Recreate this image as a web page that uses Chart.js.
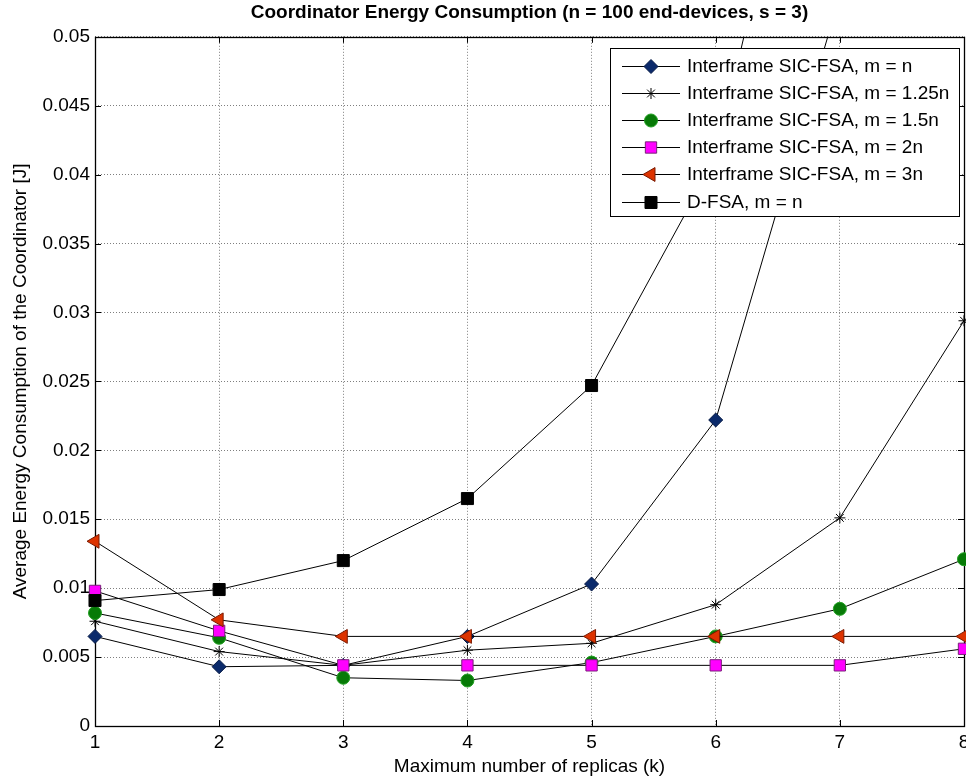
<!DOCTYPE html>
<html>
<head>
<meta charset="utf-8">
<script src="https://cdn.jsdelivr.net/npm/chart.js@4.4.1/dist/chart.umd.min.js"></script>
<style>
  body { margin: 0; background: #fff; overflow: hidden; }
</style>
</head>
<body>
<canvas id="chart-energy" width="966" height="778"></canvas>
<script>
// x categories: maximum number of replicas k
var replicas = ['1', '2', '3', '4', '5', '6', '7', '8'];
var yTicks = [0, 0.005, 0.01, 0.015, 0.02, 0.025, 0.03, 0.035, 0.04, 0.045, 0.05];

// average energy per coordinator [J]
var sicM1   = [0.0065, 0.0043, 0.0044, 0.0065, 0.0103, 0.0222, 0.0530, 0.1200];
var sicM125 = [0.0076, 0.0054, 0.0044, 0.0055, 0.0060, 0.0088, 0.0151, 0.0294];
var sicM15  = [0.0082, 0.0064, 0.0035, 0.0033, 0.0046, 0.0065, 0.0085, 0.0121];
var sicM2   = [0.0098, 0.0069, 0.0044, 0.0044, 0.0044, 0.0044, 0.0044, 0.0056];
var sicM3   = [0.0134, 0.0077, 0.0065, 0.0065, 0.0065, 0.0065, 0.0065, 0.0065];
var dfsa    = [0.0091, 0.0099, 0.0120, 0.0165, 0.0247, 0.0412, 0.0800, 0.1500];

var seriesNames = [
    'Interframe SIC-FSA, m = n',
    'Interframe SIC-FSA, m = 1.25n',
    'Interframe SIC-FSA, m = 1.5n',
    'Interframe SIC-FSA, m = 2n',
    'Interframe SIC-FSA, m = 3n',
    'D-FSA, m = n'
];

var FONT = '"Liberation Sans", Arial, Helvetica, sans-serif';
Chart.defaults.font.family = FONT;
Chart.defaults.color = '#000';

function series(i, values, style) {
    return {
        label: seriesNames[i],
        data: values,
        order: 10 - i,            // later series drawn on top, like matlab
        borderColor: '#000',
        borderWidth: 1,
        tension: 0,
        fill: false,
        pointStyle: style.shape,
        pointRotation: style.rotation || 0,
        pointRadius: style.radius,
        pointBackgroundColor: style.fill,
        pointBorderColor: style.edge,
        pointBorderWidth: 1
    };
}

var datasets = [
    series(0, sicM1,   { shape: 'rectRot', radius: 7, fill: '#0B2A6B', edge: '#061A45' }),
    series(1, sicM125, { shape: 'star', radius: 5.5, fill: '#000', edge: '#000' }),
    series(2, sicM15,  { shape: 'circle', radius: 6.5, fill: '#077A07', edge: '#22A022' }),
    series(3, sicM2,   { shape: 'rect', radius: 8, fill: '#FF00FF', edge: '#7A1F7A' }),
    series(4, sicM3,   { shape: 'triangle', rotation: -90, radius: 8, fill: '#DD3300', edge: '#7A1A00' }),
    series(5, dfsa,    { shape: 'rect', radius: 8.5, fill: '#000', edge: '#000' })
];

// matlab style box with inward ticks
var axesBox = {
    id: 'axesBox',
    beforeDatasetsDraw: function (chart) {
        var ctx = chart.ctx, a = chart.chartArea;
        var xs = chart.scales.x, ys = chart.scales.y;
        ctx.save();
        ctx.strokeStyle = '#000';
        ctx.lineWidth = 1;
        ctx.beginPath();
        xs.ticks.forEach(function (t, i) {
            var px = Math.round(xs.getPixelForTick(i)) + 0.5;
            ctx.moveTo(px, a.bottom); ctx.lineTo(px, a.bottom - 6);
            ctx.moveTo(px, a.top); ctx.lineTo(px, a.top + 6);
        });
        ys.ticks.forEach(function (t) {
            var py = Math.round(ys.getPixelForValue(t.value)) + 0.5;
            ctx.moveTo(a.left, py); ctx.lineTo(a.left + 6, py);
            ctx.moveTo(a.right, py); ctx.lineTo(a.right - 6, py);
        });
        ctx.stroke();
        ctx.lineWidth = 1.3;
        ctx.strokeRect(Math.round(a.left) + 0.5, Math.round(a.top) + 0.5,
            Math.round(a.right - a.left), Math.round(a.bottom - a.top));
        ctx.restore();
    }
};

// boxed legend in the upper right corner, line + marker samples
var boxLegend = {
    id: 'boxLegend',
    afterDatasetsDraw: function (chart) {
        var ctx = chart.ctx;
        var left = 610, top = 48, right = 959, bottom = 216;
        var rowY = 65.5, rowStep = 27.2;
        ctx.save();
        ctx.fillStyle = '#fff';
        ctx.fillRect(left, top, right - left, bottom - top);
        ctx.strokeStyle = '#000';
        ctx.lineWidth = 1;
        ctx.strokeRect(left + 0.5, top + 0.5, right - left, bottom - top);
        chart.data.datasets.forEach(function (ds, i) {
            var y = Math.round(rowY + i * rowStep) + 0.5;
            ctx.strokeStyle = '#000';
            ctx.lineWidth = 1;
            ctx.beginPath();
            ctx.moveTo(622, y); ctx.lineTo(680, y);
            ctx.stroke();
            ctx.fillStyle = ds.pointBackgroundColor;
            ctx.strokeStyle = ds.pointBorderColor;
            ctx.lineWidth = ds.pointBorderWidth;
            Chart.helpers.drawPoint(ctx, {
                pointStyle: ds.pointStyle,
                rotation: ds.pointRotation,
                radius: ds.pointRadius,
                borderWidth: ds.pointBorderWidth
            }, 651, y);
            ctx.fillStyle = '#000';
            ctx.font = '19px ' + FONT;
            ctx.textBaseline = 'middle';
            ctx.textAlign = 'left';
            ctx.fillText(ds.label, 687, y);
        });
        ctx.restore();
    }
};

var ctx = document.getElementById('chart-energy').getContext('2d');
var energyChart = new Chart(ctx, {
    type: 'line',
    data: { labels: replicas, datasets: datasets },
    plugins: [axesBox, boxLegend],
    options: {
        responsive: false,
        maintainAspectRatio: false,
        animation: false,
        layout: { autoPadding: false, padding: { left: 0, right: 2, top: 0, bottom: 0 } },
        plugins: {
            legend: { display: false },
            tooltip: { enabled: false },
            title: {
                display: true,
                fullSize: false,
                text: 'Coordinator Energy Consumption (n = 100 end-devices, s = 3)',
                color: '#000',
                font: { size: 19, weight: 'bold' },
                padding: { top: 1, bottom: 13 }
            }
        },
        scales: {
            x: {
                type: 'category',
                offset: false,
                grid: { color: '#7f7f7f', lineWidth: 1, drawTicks: false },
                border: { display: false, dash: [1, 2] },
                ticks: { padding: 5, autoSkip: false, maxRotation: 0, minRotation: 0, font: { size: 19 }, color: '#000' },
                title: { display: true, text: 'Maximum number of replicas (k)', font: { size: 19 }, color: '#000', padding: 0 },
                afterFit: function (s) {
                    s.height = 52;
                    s.paddingLeft = 0;
                    s.paddingRight = 0;
                }
            },
            y: {
                min: 0,
                max: 0.05,
                afterBuildTicks: function (s) {
                    s.ticks = yTicks.map(function (v) { return { value: v }; });
                },
                grid: { color: '#7f7f7f', lineWidth: 1, drawTicks: false },
                border: { display: false, dash: [1, 2] },
                ticks: {
                    padding: 5,
                    font: { size: 19 },
                    color: '#000',
                    callback: function (v) { return String(+Number(v).toFixed(3)); }
                },
                title: {
                    display: true,
                    text: 'Average Energy Consumption of the Coordinator [J]',
                    font: { size: 19 },
                    color: '#000',
                    padding: { top: 9, bottom: 0 }
                },
                afterFit: function (s) {
                    s.width = 95;
                    s.paddingTop = 0;
                    s.paddingBottom = 0;
                }
            }
        }
    }
});
</script>
</body>
</html>
